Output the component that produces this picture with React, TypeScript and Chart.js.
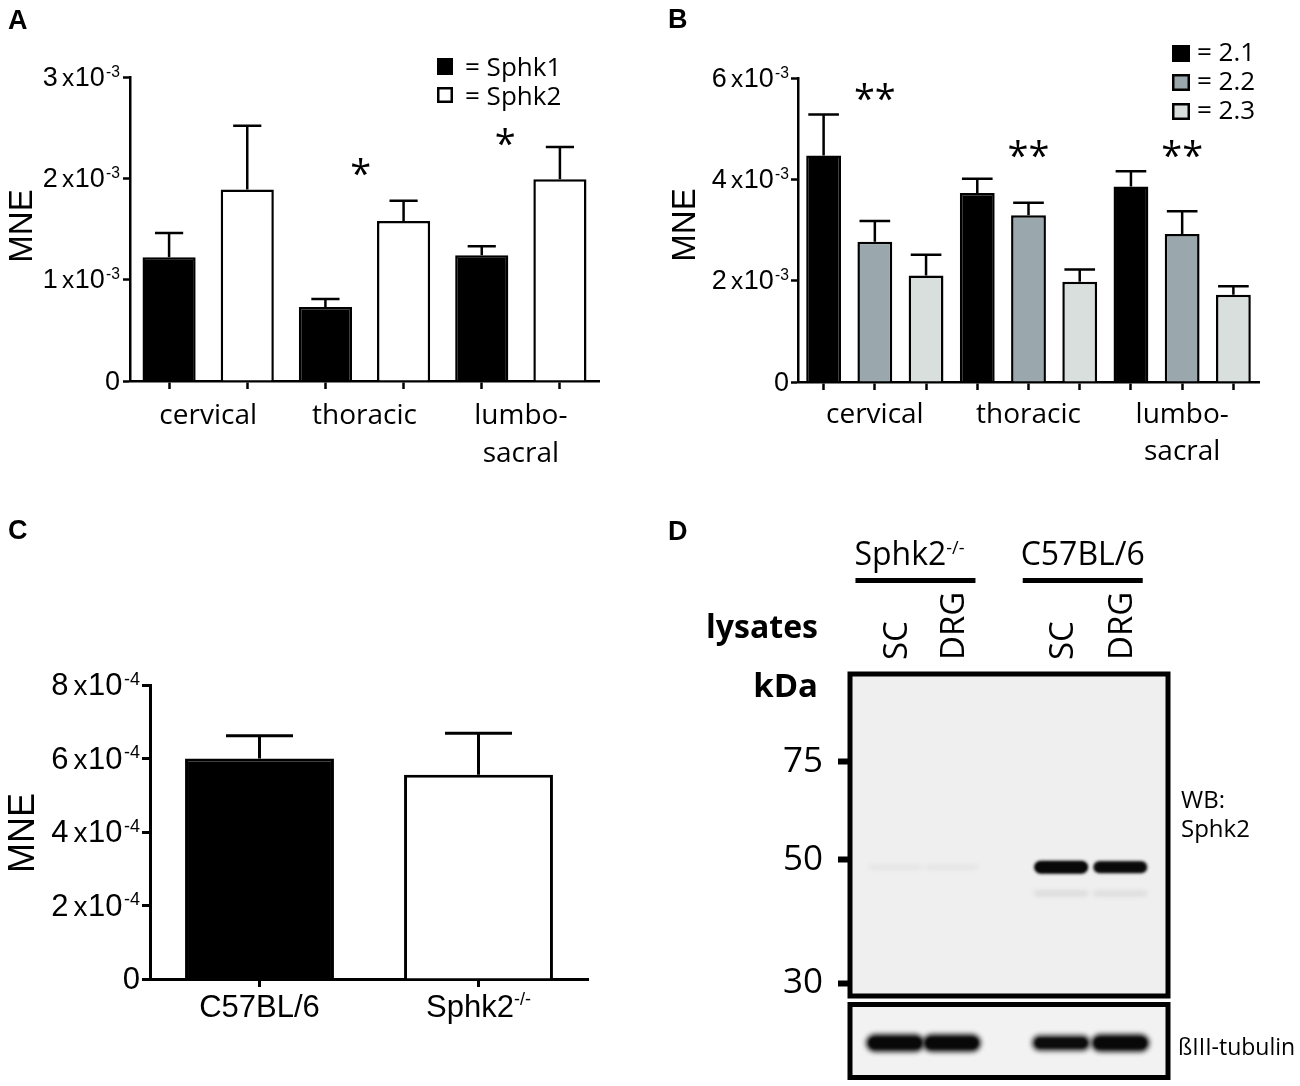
import React, { useEffect, useRef } from 'react';
import { Chart, registerables } from 'chart.js';

Chart.register(...registerables);

const ARIAL = '"Liberation Sans", Arial, Helvetica, sans-serif';
const OPEN = '"Open Sans", "Noto Sans", "DejaVu Sans", sans-serif';

/* ---------------- Panel A data ---------------- */
const regionLabels: string[][] = [['cervical'], ['thoracic'], ['lumbo-', 'sacral']];
const sphk1Mean = [1.22e-3, 0.73e-3, 1.24e-3];
const sphk1Sem = [0.24e-3, 0.08e-3, 0.09e-3];
const sphk2Mean = [1.89e-3, 1.58e-3, 1.99e-3];
const sphk2Sem = [0.63e-3, 0.2e-3, 0.32e-3];
const legendA = ['= Sphk1', '= Sphk2'];
// significance marks: position along the bar axis (bar index units) and height
const starsA = [
  { slot: 2.45, value: 2.11e-3, text: '*' },
  { slot: 4.3, value: 2.41e-3, text: '*' },
];

/* ---------------- Panel B data ---------------- */
const iso21Mean = [4.47e-3, 3.73e-3, 3.86e-3];
const iso21Sem = [0.81e-3, 0.28e-3, 0.3e-3];
const iso22Mean = [2.77e-3, 3.29e-3, 2.92e-3];
const iso22Sem = [0.41e-3, 0.25e-3, 0.45e-3];
const iso23Mean = [2.1e-3, 1.98e-3, 1.72e-3];
const iso23Sem = [0.41e-3, 0.24e-3, 0.17e-3];
const legendB = ['= 2.1', '= 2.2', '= 2.3'];
const starsB = [
  { region: 0, value: 5.72e-3, text: '**' },
  { region: 1, value: 4.6e-3, text: '**' },
  { region: 2, value: 4.6e-3, text: '**' },
];

/* ---------------- Panel C data ---------------- */
const strainNames = ['C57BL/6', 'Sphk2'];
const strainSup = ['', '-/-'];
const mneC = [6.0e-4, 5.56e-4];
const semC = [0.62e-4, 1.13e-4];

/* ---------------- Panel D data ---------------- */
const lanesD = ['SC', 'DRG', 'SC', 'DRG'];
const laneCenters = [0.71, 1.6, 3.32, 4.25];
const genotypeNames = ['Sphk2', 'C57BL/6'];
const genotypeSup = ['-/-', ''];
const genotypeLanes = [[0, 1], [2, 3]];
const markerKDa = [75, 50, 30];
const sphk2BandKDa = 48.5;
const sphk2Signal = [0.05, 0.05, 1.0, 0.92];
const lowerBandKDa = 43.5;
const lowerSignal = [0, 0, 0.1, 0.09];
const tubulinSignal = [1.0, 1.0, 0.9, 1.0];

/* ---------------- colours ---------------- */
const FILL_21 = '#000000';
const FILL_22 = '#9aa8ad';
const FILL_23 = '#d8dfdd';

/* ---------------- text helpers ---------------- */
type Part = { t: string; size: number; dy?: number; gap?: number; family?: string; weight?: string };

function setFont(ctx: CanvasRenderingContext2D, p: Part) {
  ctx.font = `${p.weight ?? 'normal'} ${p.size}px ${p.family ?? ARIAL}`;
}
function partsWidth(ctx: CanvasRenderingContext2D, parts: Part[]) {
  let w = 0;
  parts.forEach((p) => {
    setFont(ctx, p);
    w += ctx.measureText(p.t).width + (p.gap ?? 0);
  });
  return w;
}
function drawParts(ctx: CanvasRenderingContext2D, parts: Part[], x: number, baseline: number, align: 'left' | 'right' | 'center') {
  const w = partsWidth(ctx, parts);
  let cx = align === 'left' ? x : align === 'right' ? x - w : x - w / 2;
  ctx.textAlign = 'left';
  ctx.textBaseline = 'alphabetic';
  parts.forEach((p) => {
    setFont(ctx, p);
    ctx.fillText(p.t, cx, baseline + (p.dy ?? 0));
    cx += ctx.measureText(p.t).width + (p.gap ?? 0);
  });
}
function sciParts(value: number, exp: number, main: number): Part[] {
  if (Math.abs(value) < 1e-12) return [{ t: '0', size: main }];
  const m = Math.round(value / Math.pow(10, exp));
  return [
    { t: String(m), size: main, gap: main * 0.16 },
    { t: 'x', size: main * 0.9, gap: main * 0.02 },
    { t: '10', size: main, gap: main * 0.05 },
    { t: '-' + Math.abs(exp), size: main * 0.58, dy: -main * 0.33 },
  ];
}
function drawGlyphCentered(ctx: CanvasRenderingContext2D, text: string, cx: number, cy: number, font: string) {
  ctx.font = font;
  ctx.textAlign = 'center';
  ctx.textBaseline = 'alphabetic';
  const m = ctx.measureText(text);
  const base = cy + (m.actualBoundingBoxAscent - m.actualBoundingBoxDescent) / 2;
  ctx.fillText(text, cx, base);
}
function drawRotatedCentered(ctx: CanvasRenderingContext2D, text: string, cx: number, cy: number, font: string) {
  ctx.save();
  ctx.translate(cx, cy);
  ctx.rotate(-Math.PI / 2);
  ctx.font = font;
  ctx.textAlign = 'center';
  ctx.textBaseline = 'alphabetic';
  const cap = ctx.measureText('M').actualBoundingBoxAscent;
  ctx.fillText(text, 0, cap / 2);
  ctx.restore();
}
function drawRotatedFrom(ctx: CanvasRenderingContext2D, text: string, cx: number, bottom: number, font: string) {
  ctx.save();
  ctx.translate(cx, bottom);
  ctx.rotate(-Math.PI / 2);
  ctx.font = font;
  ctx.textAlign = 'left';
  ctx.textBaseline = 'alphabetic';
  const cap = ctx.measureText('H').actualBoundingBoxAscent;
  ctx.fillText(text, 0, cap / 2);
  ctx.restore();
}
function panelLetter(ctx: CanvasRenderingContext2D, letter: string, x: number, baseline: number) {
  ctx.font = `bold 27px ${ARIAL}`;
  ctx.textAlign = 'left';
  ctx.textBaseline = 'alphabetic';
  ctx.fillStyle = '#000';
  ctx.fillText(letter, x, baseline);
}

/* ---------------- bar chart factory ---------------- */
type Series = { values: number[]; sem: number[]; fill: string | string[] };
type Box = { left: number; top: number; right: number; bottom: number };
type BarSpec = {
  w: number;
  h: number;
  area: Box;
  series: Series[];
  yMax: number;
  yStep: number;
  exp: number;
  tickFont: number;
  tickGap: number;
  yTickLen: number;
  xTickLen: number;
  capFrac: number;
  lineW: number;
  decorate: (ctx: CanvasRenderingContext2D, sx: (p: number) => number, sy: (v: number) => number) => void;
};

function makeBarChart(canvas: HTMLCanvasElement, s: BarSpec): Chart {
  const nS = s.series.length;
  const nG = s.series[0].values.length;
  const slots = Array.from({ length: nG * nS }, (_, k) => `g${Math.floor(k / nS)}s${k % nS}`);
  const datasets = s.series.map((ser, si) => ({
    data: slots.map((_, k) => (k % nS === si ? ser.values[Math.floor(k / nS)] : null)),
    backgroundColor: Array.isArray(ser.fill)
      ? slots.map((_, k) => (ser.fill as string[])[Math.floor(k / nS)])
      : ser.fill,
    borderColor: '#000',
    borderWidth: s.lineW,
    grouped: false,
    barPercentage: 0.68,
    categoryPercentage: 1,
  }));
  const grid = (len: number) => ({
    display: true,
    drawOnChartArea: false,
    drawTicks: true,
    offset: false,
    tickLength: len,
    tickWidth: s.lineW,
    tickColor: '#000',
    color: '#000',
  });
  return new Chart(canvas, {
    type: 'bar',
    data: { labels: slots, datasets: datasets as any },
    options: {
      responsive: false,
      animation: false,
      layout: { padding: { left: 0, top: s.area.top, right: s.w - s.area.right, bottom: 0 } },
      plugins: { legend: { display: false }, tooltip: { enabled: false } },
      scales: {
        x: {
          type: 'category',
          offset: true,
          grid: grid(s.xTickLen) as any,
          border: { display: true, color: '#000', width: s.lineW },
          ticks: { display: false },
          afterFit: (sc: any) => {
            sc.height = s.h - s.area.bottom;
          },
        },
        y: {
          type: 'linear',
          min: 0,
          max: s.yMax,
          grid: grid(s.yTickLen) as any,
          border: { display: true, color: '#000', width: s.lineW },
          ticks: { display: false, stepSize: s.yStep },
          afterFit: (sc: any) => {
            sc.width = s.area.left;
          },
        },
      },
    },
    plugins: [
      {
        id: 'decor',
        afterDatasetsDraw(chart: any) {
          const ctx = chart.ctx as CanvasRenderingContext2D;
          const y = chart.scales.y;
          ctx.save();
          ctx.strokeStyle = '#000';
          ctx.lineWidth = s.lineW;
          s.series.forEach((ser, si) => {
            const meta = chart.getDatasetMeta(si);
            ser.values.forEach((v, g) => {
              const el: any = meta.data[g * nS + si];
              const top = y.getPixelForValue(v);
              const err = y.getPixelForValue(v + ser.sem[g]);
              const half = (el.width * s.capFrac) / 2;
              ctx.beginPath();
              ctx.moveTo(el.x, top);
              ctx.lineTo(el.x, err);
              ctx.moveTo(el.x - half, err);
              ctx.lineTo(el.x + half, err);
              ctx.stroke();
            });
          });
          ctx.restore();
        },
        afterDraw(chart: any) {
          const ctx = chart.ctx as CanvasRenderingContext2D;
          const x = chart.scales.x;
          const y = chart.scales.y;
          ctx.save();
          ctx.fillStyle = '#000';
          const cap = 0.716 * s.tickFont;
          y.ticks.forEach((t: any) => {
            drawParts(ctx, sciParts(t.value, s.exp, s.tickFont), s.area.left - s.tickGap, y.getPixelForValue(t.value) + cap / 2 - 1, 'right');
          });
          s.decorate(
            ctx,
            (p) => x.getPixelForValue(p),
            (v) => y.getPixelForValue(v)
          );
          ctx.restore();
        },
      },
    ],
  });
}

function makeA(canvas: HTMLCanvasElement) {
  return makeBarChart(canvas, {
    w: 650,
    h: 500,
    area: { left: 130, top: 77, right: 599, bottom: 381 },
    series: [
      { values: sphk1Mean, sem: sphk1Sem, fill: '#000' },
      { values: sphk2Mean, sem: sphk2Sem, fill: '#fff' },
    ],
    yMax: 3e-3,
    yStep: 1e-3,
    exp: -3,
    tickFont: 27,
    tickGap: 10,
    yTickLen: 7,
    xTickLen: 8,
    capFrac: 0.53,
    lineW: 2.5,
    decorate: (ctx, sx, sy) => {
      panelLetter(ctx, 'A', 8, 29);
      drawRotatedCentered(ctx, 'MNE', 20, 226, `33px ${ARIAL}`);
      ctx.font = `28px ${OPEN}`;
      ctx.textAlign = 'center';
      ctx.textBaseline = 'alphabetic';
      regionLabels.forEach((lines, g) => {
        const cx = (sx(2 * g) + sx(2 * g + 1)) / 2;
        lines.forEach((ln, li) => ctx.fillText(ln, cx, 424 + li * 38));
      });
      starsA.forEach((st) => {
        drawGlyphCentered(ctx, st.text, sx(st.slot), sy(st.value), `38px ${OPEN}`);
      });
      // legend
      ctx.fillStyle = '#000';
      ctx.fillRect(437, 58, 16, 17);
      ctx.fillStyle = '#fff';
      ctx.fillRect(437, 87, 16, 16);
      ctx.strokeStyle = '#000';
      ctx.lineWidth = 2.5;
      ctx.strokeRect(438.25, 88.25, 13.5, 13.5);
      ctx.fillStyle = '#000';
      ctx.font = `26px ${OPEN}`;
      ctx.textAlign = 'left';
      ctx.fillText(legendA[0], 465, 76);
      ctx.fillText(legendA[1], 465, 105);
    },
  });
}

function makeB(canvas: HTMLCanvasElement) {
  return makeBarChart(canvas, {
    w: 650,
    h: 500,
    area: { left: 148, top: 78, right: 609, bottom: 382 },
    series: [
      { values: iso21Mean, sem: iso21Sem, fill: FILL_21 },
      { values: iso22Mean, sem: iso22Sem, fill: FILL_22 },
      { values: iso23Mean, sem: iso23Sem, fill: FILL_23 },
    ],
    yMax: 6e-3,
    yStep: 2e-3,
    exp: -3,
    tickFont: 27,
    tickGap: 9,
    yTickLen: 7,
    xTickLen: 8,
    capFrac: 0.88,
    lineW: 2.5,
    decorate: (ctx, sx, sy) => {
      panelLetter(ctx, 'B', 18, 28);
      drawRotatedCentered(ctx, 'MNE', 33, 225, `33px ${ARIAL}`);
      ctx.font = `28px ${OPEN}`;
      ctx.textAlign = 'center';
      ctx.textBaseline = 'alphabetic';
      regionLabels.forEach((lines, g) => {
        const cx = sx(3 * g + 1);
        lines.forEach((ln, li) => ctx.fillText(ln, cx, 423 + li * 37));
      });
      starsB.forEach((st) => {
        drawGlyphCentered(ctx, st.text, sx(3 * st.region + 1), sy(st.value), `38px ${OPEN}`);
      });
      const fills = [FILL_21, FILL_22, FILL_23];
      const tops = [45, 74, 103];
      fills.forEach((f, i) => {
        ctx.fillStyle = f;
        ctx.fillRect(522, tops[i], 18, 17);
        ctx.strokeStyle = '#000';
        ctx.lineWidth = 2.5;
        ctx.strokeRect(523.25, tops[i] + 1.25, 15.5, 14.5);
      });
      ctx.fillStyle = '#000';
      ctx.font = `26px ${OPEN}`;
      ctx.textAlign = 'left';
      legendB.forEach((t, i) => ctx.fillText(t, 547, tops[i] + 16));
    },
  });
}

function makeC(canvas: HTMLCanvasElement) {
  return makeBarChart(canvas, {
    w: 650,
    h: 586,
    area: { left: 150, top: 185, right: 588, bottom: 479 },
    series: [{ values: mneC, sem: semC, fill: ['#000', '#fff'] }],
    yMax: 8e-4,
    yStep: 2e-4,
    exp: -4,
    tickFont: 31,
    tickGap: 10,
    yTickLen: 8,
    xTickLen: 8,
    capFrac: 0.45,
    lineW: 3,
    decorate: (ctx, sx) => {
      panelLetter(ctx, 'C', 8, 39);
      drawRotatedCentered(ctx, 'MNE', 21, 333, `36px ${ARIAL}`);
      ctx.fillStyle = '#000';
      strainNames.forEach((n, i) => {
        const parts: Part[] = [{ t: n, size: 31 }];
        if (strainSup[i]) parts.push({ t: strainSup[i], size: 18, dy: -12 });
        drawParts(ctx, parts, sx(i), 517, 'center');
      });
    },
  });
}

/* ---------------- western blot panel ---------------- */
function drawBand(ctx: CanvasRenderingContext2D, cx: number, cy: number, w: number, h: number, alpha: number, blur: number) {
  if (alpha <= 0) return;
  ctx.save();
  ctx.filter = `blur(${blur}px)`;
  ctx.fillStyle = `rgba(8,8,8,${Math.min(1, alpha)})`;
  ctx.beginPath();
  (ctx as any).roundRect(cx - w / 2, cy - h / 2, w, h, h / 2);
  ctx.fill();
  ctx.restore();
}

function makeD(canvas: HTMLCanvasElement) {
  const W = 650;
  const H = 586;
  const area = { left: 200, top: 174, right: 518, bottom: 496 };
  const tub = { top: 504.5, bottom: 577.5 };
  return new Chart(canvas, {
    type: 'scatter',
    data: {
      datasets: [
        { label: 'Sphk2', data: laneCenters.map((x, i) => ({ x, y: sphk2BandKDa, s: sphk2Signal[i] })), pointRadius: 0 },
        { label: 'lower', data: laneCenters.map((x, i) => ({ x, y: lowerBandKDa, s: lowerSignal[i] })), pointRadius: 0 },
      ] as any,
    },
    options: {
      responsive: false,
      animation: false,
      layout: { padding: { left: 0, top: area.top, right: W - area.right, bottom: H - area.bottom } },
      plugins: { legend: { display: false }, tooltip: { enabled: false } },
      scales: {
        x: { type: 'linear', min: 0, max: 5, display: false },
        y: {
          type: 'logarithmic',
          min: 28.43,
          max: 108,
          afterBuildTicks: (sc: any) => {
            sc.ticks = markerKDa.map((v) => ({ value: v }));
          },
          ticks: {
            callback: (v: any) => String(v),
            font: { family: OPEN, size: 35 },
            color: '#000',
            padding: 15,
            autoSkip: false,
          },
          grid: {
            display: true,
            drawOnChartArea: false,
            drawTicks: true,
            tickLength: 12,
            tickWidth: 6,
            tickColor: '#000',
          } as any,
          border: { display: false },
          afterFit: (sc: any) => {
            sc.width = area.left;
          },
        },
      },
    },
    plugins: [
      {
        id: 'blot',
        beforeDatasetsDraw(chart: any) {
          const ctx = chart.ctx as CanvasRenderingContext2D;
          const ca = chart.chartArea;
          ctx.save();
          ctx.fillStyle = '#efefef';
          ctx.fillRect(ca.left, ca.top, ca.right - ca.left, ca.bottom - ca.top);
          ctx.fillStyle = '#f2f2f2';
          ctx.fillRect(ca.left, tub.top, ca.right - ca.left, tub.bottom - tub.top);
          ctx.restore();
        },
        afterDatasetsDraw(chart: any) {
          const ctx = chart.ctx as CanvasRenderingContext2D;
          const ca = chart.chartArea;
          const x = chart.scales.x;
          const laneW = x.getPixelForValue(1) - x.getPixelForValue(0);
          [0, 1].forEach((di) => {
            const meta = chart.getDatasetMeta(di);
            const ds = chart.data.datasets[di];
            meta.data.forEach((el: any, i: number) => {
              const sig = ds.data[i].s;
              drawBand(ctx, el.x, el.y, laneW * 0.85, 4 + 9 * sig, sig, sig > 0.5 ? 1.6 : 2.5);
              if (sig > 0.5) drawBand(ctx, el.x, el.y, laneW * 0.78, 3 + 6 * sig, sig, 1);
            });
          });
          const tcy = (tub.top + tub.bottom) / 2 + 2;
          laneCenters.forEach((lx, i) => {
            const cx = x.getPixelForValue(lx);
            drawBand(ctx, cx, tcy, laneW * 0.92, 18 * tubulinSignal[i], tubulinSignal[i] * 0.9, 2.5);
            drawBand(ctx, cx, tcy, laneW * 0.82, 11 * tubulinSignal[i], tubulinSignal[i], 1.2);
          });
          ctx.save();
          ctx.strokeStyle = '#000';
          ctx.lineWidth = 5;
          ctx.strokeRect(ca.left, ca.top, ca.right - ca.left, ca.bottom - ca.top);
          ctx.strokeRect(ca.left, tub.top, ca.right - ca.left, tub.bottom - tub.top);
          ctx.restore();
        },
        afterDraw(chart: any) {
          const ctx = chart.ctx as CanvasRenderingContext2D;
          const x = chart.scales.x;
          ctx.save();
          ctx.fillStyle = '#000';
          panelLetter(ctx, 'D', 18, 40);
          genotypeLanes.forEach((ln, gi) => {
            const cx = (x.getPixelForValue(laneCenters[ln[0]]) + x.getPixelForValue(laneCenters[ln[1]])) / 2 - 8;
            const parts: Part[] = [{ t: genotypeNames[gi], size: 32, family: OPEN }];
            if (genotypeSup[gi]) parts.push({ t: genotypeSup[gi], size: 18, dy: -11, family: OPEN });
            drawParts(ctx, parts, cx - (gi === 0 ? 6 : 0), 65, 'center');
            ctx.fillRect(cx - 60, 78, 120, 5);
          });
          lanesD.forEach((t, i) => {
            drawRotatedFrom(ctx, t, x.getPixelForValue(laneCenters[i]), 160, `33px ${OPEN}`);
          });
          ctx.font = `bold 32px ${OPEN}`;
          ctx.textAlign = 'right';
          ctx.textBaseline = 'alphabetic';
          ctx.fillText('lysates', 168, 138);
          ctx.font = `bold 33px ${OPEN}`;
          ctx.fillText('kDa', 168, 197);
          ctx.font = `24px ${OPEN}`;
          ctx.textAlign = 'left';
          ctx.fillText('WB:', 531, 308);
          ctx.fillText('Sphk2', 531, 337);
          ctx.font = `23px ${OPEN}`;
          ctx.fillText('ßIII-tubulin', 528, 555);
          ctx.restore();
        },
      },
    ],
  });
}

export default function App() {
  const refA = useRef<HTMLCanvasElement>(null);
  const refB = useRef<HTMLCanvasElement>(null);
  const refC = useRef<HTMLCanvasElement>(null);
  const refD = useRef<HTMLCanvasElement>(null);

  useEffect(() => {
    const charts = [
      makeA(refA.current!),
      makeB(refB.current!),
      makeC(refC.current!),
      makeD(refD.current!),
    ];
    return () => charts.forEach((c) => c.destroy());
  }, []);

  const cs = (left: number, top: number, w: number, h: number): React.CSSProperties => ({
    position: 'absolute',
    left,
    top,
    width: w,
    height: h,
  });

  return (
    <div style={{ position: 'absolute', left: 0, top: 0, width: 1300, height: 1086, background: '#fff', overflow: 'hidden' }}>
      <canvas ref={refA} width={650} height={500} style={cs(0, 0, 650, 500)} />
      <canvas ref={refB} width={650} height={500} style={cs(650, 0, 650, 500)} />
      <canvas ref={refC} width={650} height={586} style={cs(0, 500, 650, 586)} />
      <canvas ref={refD} width={650} height={586} style={cs(650, 500, 650, 586)} />
    </div>
  );
}
